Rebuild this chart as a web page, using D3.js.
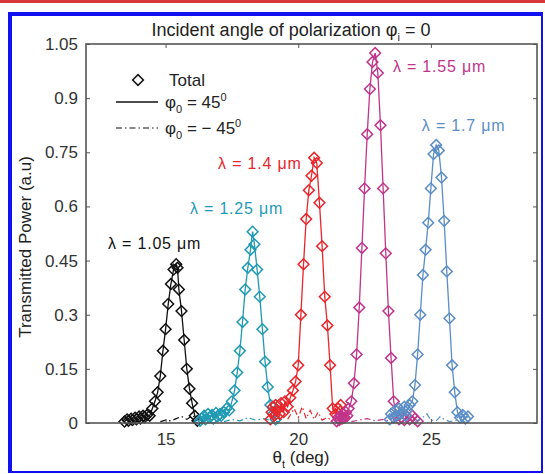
<!DOCTYPE html>
<html>
<head>
<meta charset="utf-8">
<script src="https://cdn.jsdelivr.net/npm/d3@7"></script>
<style>
  body { margin: 0; background: #fff; }
  svg { display: block; font-family: "Liberation Sans", Arial, sans-serif; }
</style>
</head>
<body>
<div id="chart"></div>
<script>
// values: angle (deg) and transmitted power (a.u)
const theta105 = [13.45, 13.55, 13.6, 13.7, 13.75, 13.85, 13.9, 14.0, 14.05, 14.15, 14.2, 14.3, 14.4, 14.5, 14.6, 14.7, 14.8, 14.9, 15.0, 15.1, 15.2, 15.3, 15.4, 15.45, 15.5, 15.6, 15.7, 15.8, 15.9, 16.0, 16.1, 16.2];
const total105 = [0.004, 0.01, 0.006, 0.012, 0.008, 0.015, 0.01, 0.018, 0.012, 0.02, 0.016, 0.022, 0.02, 0.04, 0.06, 0.085, 0.13, 0.2, 0.26, 0.33, 0.385, 0.425, 0.44, 0.43, 0.37, 0.31, 0.23, 0.15, 0.095, 0.055, 0.02, 0.006];

const theta125 = [16.3, 16.35, 16.45, 16.5, 16.6, 16.65, 16.75, 16.8, 16.9, 16.95, 17.05, 17.1, 17.2, 17.3, 17.4, 17.5, 17.6, 17.7, 17.8, 17.9, 18.0, 18.1, 18.2, 18.28, 18.35, 18.45, 18.55, 18.65, 18.75, 18.85, 18.95, 19.05, 19.15];
const total125 = [0.006, 0.012, 0.02, 0.01, 0.025, 0.015, 0.022, 0.012, 0.028, 0.018, 0.025, 0.02, 0.03, 0.04, 0.035, 0.06, 0.09, 0.14, 0.2, 0.28, 0.37, 0.43, 0.48, 0.53, 0.495, 0.425, 0.35, 0.26, 0.17, 0.1, 0.05, 0.025, 0.01];

const theta140 = [18.95, 19.0, 19.05, 19.1, 19.15, 19.2, 19.3, 19.35, 19.45, 19.5, 19.6, 19.7, 19.8, 19.9, 20.0, 20.1, 20.2, 20.3, 20.4, 20.5, 20.6, 20.7, 20.8, 20.9, 21.0, 21.1, 21.2, 21.3, 21.4, 21.5, 21.6, 21.7];
const total140 = [0.01, 0.03, 0.045, 0.02, 0.05, 0.035, 0.025, 0.055, 0.03, 0.06, 0.045, 0.07, 0.09, 0.115, 0.16, 0.3, 0.44, 0.565, 0.645, 0.685, 0.735, 0.72, 0.61, 0.49, 0.35, 0.27, 0.16, 0.04, 0.025, 0.04, 0.05, 0.015];

const theta155 = [21.45, 21.5, 21.55, 21.6, 21.65, 21.7, 21.75, 21.8, 21.85, 21.9, 22.0, 22.1, 22.2, 22.3, 22.4, 22.5, 22.6, 22.7, 22.8, 22.9, 23.0, 23.1, 23.2, 23.3, 23.4, 23.5, 23.6, 23.7, 23.8, 23.9, 24.0, 24.1, 24.2, 24.3, 24.4, 24.5];
const total155 = [0.005, 0.015, 0.008, 0.02, 0.012, 0.025, 0.015, 0.03, 0.02, 0.04, 0.06, 0.11, 0.19, 0.32, 0.485, 0.65, 0.8, 0.925, 1.0, 1.025, 0.97, 0.825, 0.65, 0.47, 0.31, 0.18, 0.06, 0.02, 0.01, 0.015, 0.008, 0.018, 0.01, 0.02, 0.012, 0.005];

const theta170 = [23.45, 23.5, 23.6, 23.65, 23.7, 23.8, 23.85, 23.9, 24.0, 24.05, 24.1, 24.2, 24.3, 24.4, 24.5, 24.6, 24.7, 24.8, 24.9, 25.0, 25.1, 25.2, 25.3, 25.4, 25.5, 25.6, 25.7, 25.8, 25.9, 26.0, 26.1, 26.2, 26.3, 26.4];
const total170 = [0.01, 0.025, 0.015, 0.035, 0.02, 0.04, 0.025, 0.03, 0.045, 0.02, 0.035, 0.05, 0.06, 0.105, 0.19, 0.3, 0.41, 0.48, 0.555, 0.65, 0.745, 0.77, 0.755, 0.68, 0.56, 0.42, 0.29, 0.16, 0.085, 0.03, 0.015, 0.022, 0.012, 0.018];

// phi0 = -45 deg (dash-dot), stays near zero
const thetaNeg105 = [14.8, 15.0, 15.2, 15.4, 15.6, 15.8, 16.0, 16.2, 16.4];
const neg105 = [0.004, 0.008, 0.006, 0.012, 0.018, 0.01, 0.02, 0.012, 0.005];
const thetaNeg125 = [17.2, 17.5, 17.8, 18.1, 18.4, 18.7, 19.0, 19.3];
const neg125 = [0.004, 0.01, 0.006, 0.015, 0.008, 0.012, 0.006, 0.003];
const thetaNeg140 = [19.6, 19.85, 20.0, 20.15, 20.3, 20.45, 20.6, 20.75, 20.9, 21.1, 21.3];
const neg140 = [0.01, 0.04, 0.015, 0.045, 0.012, 0.035, 0.01, 0.03, 0.008, 0.015, 0.005];
const thetaNeg155 = [22.0, 22.3, 22.6, 22.9, 23.2, 23.5, 23.8];
const neg155 = [0.004, 0.008, 0.012, 0.006, 0.01, 0.005, 0.003];
const thetaNeg170 = [24.4, 24.6, 24.85, 25.0, 25.2, 25.35, 25.5, 25.7, 26.0, 26.3];
const neg170 = [0.004, 0.01, 0.025, 0.008, 0.006, 0.018, 0.01, 0.004, 0.008, 0.003];

const wavelengths = ["1.05", "1.25", "1.4", "1.55", "1.7"];
const colors = ["#111111", "#1f9ab4", "#e8262b", "#c0358a", "#5b8dc6"];
// label anchors in data units (theta, power)
const labelAt = [[12.83, 0.483], [15.92, 0.578], [16.98, 0.703], [23.57, 0.972], [24.66, 0.808]];

const xTicks = [15, 20, 25];
const yTicks = [0, 0.15, 0.3, 0.45, 0.6, 0.75, 0.9, 1.05];
const yTickText = ["0", "0.15", "0.3", "0.45", "0.6", "0.75", "0.9", "1.05"];

const series = [
  { th: theta105, tot: total105, nth: thetaNeg105, neg: neg105 },
  { th: theta125, tot: total125, nth: thetaNeg125, neg: neg125 },
  { th: theta140, tot: total140, nth: thetaNeg140, neg: neg140 },
  { th: theta155, tot: total155, nth: thetaNeg155, neg: neg155 },
  { th: theta170, tot: total170, nth: thetaNeg170, neg: neg170 }
];

const width = 545;
const height = 474;
const margin = { left: 86, right: 8, top: 44, bottom: 51 };

const svg = d3
  .select("#chart")
  .append("svg")
  .attr("width", width)
  .attr("height", height);

// page decoration: red rule and blue frame
svg.append("rect").attr("x", 0).attr("y", 0).attr("width", width).attr("height", 3).attr("fill", "#d8383c");
svg.append("rect").attr("x", 9).attr("y", 13).attr("width", 533).attr("height", 459)
  .attr("fill", "none").attr("stroke", "#1010f0").attr("stroke-width", 2);
svg.append("rect").attr("x", 8).attr("y", 12).attr("width", 4).attr("height", 461).attr("fill", "#1010f0");
svg.append("rect").attr("x", 8).attr("y", 12).attr("width", 535).attr("height", 4).attr("fill", "#1010f0");

const x = d3.scaleLinear().domain([12, 29]).range([margin.left, width - margin.right]);
const y = d3.scaleLinear().domain([0, 1.05]).range([height - margin.bottom, margin.top]);

const axisColor = "#555";
const plot = svg.append("g");

// axes (ticks point inward, mirrored on top/right)
const styleAxis = g => {
  g.select(".domain").remove();
  g.selectAll(".tick line").attr("stroke", axisColor).attr("stroke-width", 1);
  g.selectAll(".tick text").attr("fill", "#333").attr("font-size", 17);
};

svg.append("g")
  .attr("transform", `translate(0,${y(0)})`)
  .call(d3.axisBottom(x).tickValues(xTicks).tickSizeInner(-4).tickSizeOuter(0).tickPadding(10))
  .call(styleAxis);
svg.append("g")
  .attr("transform", `translate(0,${y(1.05)})`)
  .call(d3.axisTop(x).tickValues(xTicks).tickSizeInner(-4).tickSizeOuter(0).tickFormat(""))
  .call(styleAxis);
svg.append("g")
  .attr("transform", `translate(${x(12)},0)`)
  .call(d3.axisLeft(y).tickValues(yTicks).tickSizeInner(-4).tickSizeOuter(0).tickPadding(8)
    .tickFormat((d, i) => yTickText[i]))
  .call(styleAxis);
svg.append("g")
  .attr("transform", `translate(${x(29)},0)`)
  .call(d3.axisRight(y).tickValues(yTicks).tickSizeInner(-4).tickSizeOuter(0).tickFormat(""))
  .call(styleAxis);

const diamond = d3.symbol().type(d3.symbolSquare).size(58);
const line = d3.line().x(d => x(d[0])).y(d => y(d[1]));

series.forEach((s, i) => {
  const pts = s.th.map((t, j) => [t, s.tot[j]]);
  const negPts = s.nth.map((t, j) => [t, s.neg[j]]);

  plot.append("path")
    .datum(negPts)
    .attr("d", line)
    .attr("fill", "none")
    .attr("stroke", colors[i])
    .attr("stroke-width", 1.2)
    .attr("stroke-dasharray", "6,3,1.5,3");

  plot.append("path")
    .datum(pts)
    .attr("d", line)
    .attr("fill", "none")
    .attr("stroke", colors[i])
    .attr("stroke-width", 1.3);

  plot.selectAll(null)
    .data(pts)
    .enter()
    .append("path")
    .attr("d", diamond)
    .attr("transform", d => `translate(${x(d[0])},${y(d[1])}) rotate(45)`)
    .attr("fill", "none")
    .attr("stroke", colors[i])
    .attr("stroke-width", 1.5);

  plot.append("text")
    .attr("x", x(labelAt[i][0]))
    .attr("y", y(labelAt[i][1]))
    .attr("fill", colors[i])
    .attr("font-size", 16)
    .attr("letter-spacing", 0.8)
    .text(`λ = ${wavelengths[i]} μm`);
});

// frame drawn over the data
svg.append("rect")
  .attr("x", x(12)).attr("y", y(1.05))
  .attr("width", x(29) - x(12)).attr("height", y(0) - y(1.05))
  .attr("fill", "none").attr("stroke", axisColor).attr("stroke-width", 1.6);

// legend
const legend = svg.append("g").attr("font-size", 17).attr("fill", "#222");
legend.append("path").attr("d", diamond).attr("transform", "translate(138,80) rotate(45)")
  .attr("fill", "none").attr("stroke", "#111").attr("stroke-width", 1.5);
legend.append("text").attr("x", 169).attr("y", 86).text("Total");
legend.append("line").attr("x1", 116).attr("x2", 158).attr("y1", 102).attr("y2", 102)
  .attr("stroke", "#111").attr("stroke-width", 1.4);
const l2 = legend.append("text").attr("x", 165).attr("y", 108);
l2.append("tspan").text("φ");
l2.append("tspan").attr("font-size", 11).attr("dy", 5).text("0");
l2.append("tspan").attr("dy", -5).text(" = 45");
l2.append("tspan").attr("font-size", 11).attr("dy", -7).text("0");
legend.append("line").attr("x1", 116).attr("x2", 158).attr("y1", 128).attr("y2", 128)
  .attr("stroke", "#111").attr("stroke-width", 1.2).attr("stroke-dasharray", "6,3,1.5,3");
const l3 = legend.append("text").attr("x", 165).attr("y", 134);
l3.append("tspan").text("φ");
l3.append("tspan").attr("font-size", 11).attr("dy", 5).text("0");
l3.append("tspan").attr("dy", -5).text(" = − 45");
l3.append("tspan").attr("font-size", 11).attr("dy", -7).text("0");

// title and axis labels
const title = svg.append("text").attr("x", 291).attr("y", 36).attr("text-anchor", "middle")
  .attr("font-size", 18).attr("fill", "#222");
title.append("tspan").text("Incident angle of polarization φ");
title.append("tspan").attr("font-size", 11).attr("dy", 5).text("i");
title.append("tspan").attr("dy", -5).text(" = 0");

const xl = svg.append("text").attr("x", 301).attr("y", 463).attr("text-anchor", "middle")
  .attr("font-size", 17).attr("fill", "#222");
xl.append("tspan").text("θ");
xl.append("tspan").attr("font-size", 11).attr("dy", 5).text("t");
xl.append("tspan").attr("dy", -5).text(" (deg)");

svg.append("text")
  .attr("transform", "translate(31,247) rotate(-90)")
  .attr("text-anchor", "middle")
  .attr("font-size", 17)
  .attr("fill", "#222")
  .text("Transmitted Power (a.u)");
</script>
</body>
</html>
